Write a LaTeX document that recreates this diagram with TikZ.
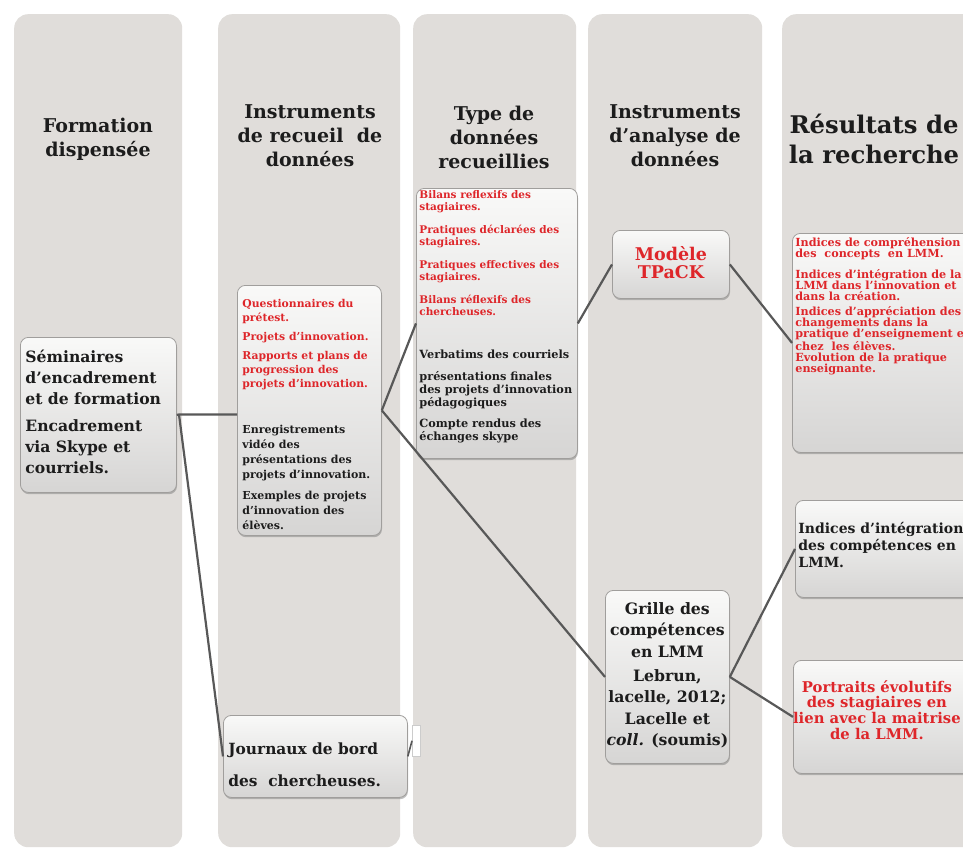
\documentclass[tikz,border=0pt]{standalone}
\usepackage{fontspec}
\setmainfont{DejaVu Serif}
\usetikzlibrary{shadows}
\definecolor{colg}{RGB}{224,221,218}
\definecolor{tred}{RGB}{222,38,42}
\definecolor{tblk}{RGB}{28,28,28}
\definecolor{boxline}{RGB}{160,158,156}
\definecolor{connc}{RGB}{88,88,88}
\definecolor{boxtop}{RGB}{249,249,248}
\definecolor{boxbot}{RGB}{214,213,212}
\tikzset{
  colbox/.style={fill=colg, rounded corners=14pt, inner sep=0pt, anchor=north west},
  head/.style={align=center, inner sep=0pt, text=tblk, font=\bfseries\fontsize{19pt}{24pt}\selectfont},
  bighead/.style={head, font=\bfseries\fontsize{24.3pt}{30pt}\selectfont},
  bx/.style={anchor=north west, rounded corners=8pt, draw=boxline, line width=0.8pt,
    top color=boxtop, bottom color=boxbot, inner ysep=0pt, text=tblk, font=\bfseries,
    drop shadow={shadow xshift=0.6pt, shadow yshift=-1.8pt, opacity=0.45, fill=black!55}},
  conn/.style={draw=connc, line width=2.2pt},
  tabst/.style={anchor=north west, fill=white, draw=black!20, line width=0.5pt, inner sep=0pt}
}
\begin{document}
\begin{tikzpicture}[x=1pt,y=-1pt]
\useasboundingbox (0,0) rectangle (963,849);
\clip (0,0) rectangle (963,849);
\fill[white] (0,0) rectangle (963,849);
% columns
\node[colbox, minimum width=168pt, minimum height=833pt] (col1) at (14,14) {};
\node[colbox, minimum width=182pt, minimum height=833pt] (col2) at (218,14) {};
\node[colbox, minimum width=163pt, minimum height=833pt] (col3) at (413,14) {};
\node[colbox, minimum width=174pt, minimum height=833pt] (col4) at (588,14) {};
\node[colbox, minimum width=200pt, minimum height=833pt] (col5) at (782,14) {};
% headers
\node[head] (h1) at (98,139) {Formation\\dispensée};
\node[head] (h2) at (310,136) {Instruments\\de recueil~ de\\données};
\node[head] (h3) at (494,137) {Type de\\données\\recueillies};
\node[head] (h4) at (675,136) {Instruments\\d'analyse de\\données};
\node[bighead] (h5) at (874,139) {Résultats de\\la recherche};
% boxes
\node[bx, inner xsep=5pt] (A) at (20,337) {\parbox[c][155pt][t]{146pt}{\bfseries\fontsize{15.6pt}{21pt}\selectfont\vspace*{13pt}Séminaires\\d'encadrement\\et de formation\par\vspace{6pt}Encadrement\\via Skype et\\courriels.}};
\node[bx, inner xsep=5pt] (B) at (237,285) {\parbox[c][250pt][t]{134pt}{\bfseries\fontsize{10.8pt}{14pt}\selectfont\color{tred}\vspace*{14pt}Questionnaires du\\prétest.\par\vspace{5pt}Projets d'innovation.\par\vspace{5pt}Rapports et plans de\\progression des\\projets d'innovation.\par\vspace{31pt}\color{tblk}\fontsize{11pt}{15pt}\selectfont Enregistrements\\vidéo des\\présentations des\\projets d'innovation.\par\vspace{6pt}Exemples de projets\\d'innovation des\\élèves.}};
\node[bx, inner xsep=5pt] (J) at (223,715) {\parbox[c][82pt][t]{174pt}{\bfseries\fontsize{15.4pt}{32pt}\selectfont\vspace*{27pt}Journaux de bord\\des~ chercheuses.}};
\node[tabst, minimum width=8pt, minimum height=31pt] (tab) at (412,725) {};
\node[bx, inner xsep=3pt] (C) at (416,188) {\parbox[c][270pt][t]{155pt}{\bfseries\fontsize{10.5pt}{12.5pt}\selectfont\color{tred}\vspace*{2pt}Bilans reflexifs des\\stagiaires.\par\vspace{10pt}Pratiques déclarées des\\stagiaires.\par\vspace{10pt}Pratiques effectives des\\stagiaires.\par\vspace{10pt}Bilans réflexifs des\\chercheuses.\par\vspace{30pt}\color{tblk}\fontsize{11.3pt}{12.8pt}\selectfont Verbatims des courriels\par\vspace{9pt}présentations finales\\des projets d'innovation\\pédagogiques\par\vspace{9pt}Compte rendus des\\échanges skype}};
\node[bx, inner xsep=4pt] (D) at (612,230) {\parbox[c][68pt][t]{109pt}{\bfseries\fontsize{17.5pt}{18pt}\selectfont\centering\color{tred}\vspace*{16pt}Modèle\\TPaCK}};
\node[bx, inner xsep=0pt] (E) at (605,590) {\parbox[c][173pt][t]{124pt}{\bfseries\fontsize{15.7pt}{21.5pt}\selectfont\centering\vspace*{12pt}Grille des\\compétences\\en LMM\par\vspace{2.5pt}Lebrun,\\lacelle, 2012;\\Lacelle et\\\textit{coll.} (soumis)}};
\node[bx, inner xsep=3pt] (F) at (792,233) {\parbox[c][219pt][t]{190pt}{\bfseries\fontsize{11.2pt}{11pt}\selectfont\color{tred}\vspace*{4pt}Indices de compréhension\\des~ concepts~ en LMM.\par\vspace{9pt}Indices d'intégration de la\\LMM dans l'innovation et\\dans la création.\par\vspace{4pt}Indices d'appréciation des\\changements dans la\\pratique d'enseignement et\\chez~ les élèves.\par Evolution de la pratique\\enseignante.}};
\node[bx, inner xsep=3pt] (G) at (795,500) {\parbox[c][97pt][t]{180pt}{\bfseries\fontsize{14pt}{17pt}\selectfont\vspace*{22pt}Indices d'intégration\\des compétences en\\LMM.}};
\node[bx, inner xsep=3pt] (H) at (793,660) {\parbox[c][113pt][t]{181pt}{\bfseries\fontsize{14.8pt}{15.7pt}\selectfont\centering\leftskip=-6pt plus 1fil\rightskip=14pt plus 1fil\relax\color{tred}\vspace*{20pt}Portraits évolutifs\\des stagiaires en\\lien avec la maitrise\\de la LMM.}};
% connectors
\coordinate (a1) at (179,414.5);
\draw[conn] (A.east) -- (a1) -- (a1 -| B.west);
\draw[conn] (a1) -- (J.west);
\draw[conn, line width=1.6pt] (J.east) -- (tab.west);
\draw[conn] (B.east) -- (C.west);
\draw[conn] (B.east) -- (E.west);
\draw[conn] (C.east) -- (D.west);
\draw[conn] (D.east) -- (F.west);
\draw[conn] (E.east) -- (G.west);
\draw[conn] (E.east) -- (H.west);
\end{tikzpicture}
\end{document}
